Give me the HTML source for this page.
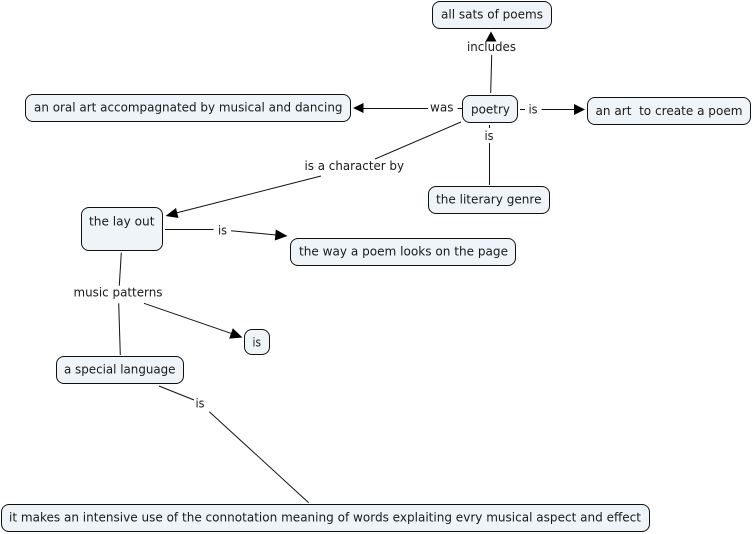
<!DOCTYPE html>
<html><head><meta charset="utf-8">
<style>
html,body{margin:0;padding:0;background:#fff;width:753px;height:534px;overflow:hidden}
svg{display:block}
text{font-family:"DejaVu Sans","Liberation Sans",sans-serif;font-size:12px;fill:#1a1a1a;white-space:pre}
rect{fill:#eef4f7;stroke:#111;stroke-width:1}
line{stroke:#111;stroke-width:1}
polygon{fill:#000}
</style></head><body>
<svg width="753" height="534" viewBox="0 0 753 534" xmlns="http://www.w3.org/2000/svg">
<!-- connectors -->
<line x1="490.7" y1="93" x2="491.7" y2="55"/>
<polygon points="491,31.5 496.5,41.5 485.5,41.5"/>
<line x1="362" y1="108.5" x2="428" y2="108.5"/>
<polygon points="353,108 363.5,103 363.5,113"/>
<line x1="457.5" y1="108.5" x2="462" y2="108.5"/>
<line x1="520" y1="109.5" x2="525" y2="109.5"/>
<line x1="541.5" y1="109.5" x2="576" y2="109.5"/>
<polygon points="585,109.5 574,104 574,115"/>
<line x1="489.5" y1="125" x2="489.5" y2="128"/>
<line x1="489.5" y1="143" x2="489.5" y2="185"/>
<line x1="461" y1="122" x2="375" y2="159"/>
<line x1="321" y1="176" x2="176" y2="213"/>
<polygon points="165.5,216 176,208 178.5,218"/>
<line x1="165" y1="229.5" x2="213.5" y2="229.5"/>
<line x1="231" y1="230.7" x2="276" y2="235"/>
<polygon points="287.5,236 275.8,229.5 274.8,240.5"/>
<line x1="121.3" y1="252.7" x2="119.3" y2="285.7"/>
<line x1="118.7" y1="303.3" x2="120.3" y2="355"/>
<line x1="144" y1="303.3" x2="232" y2="333.7"/>
<polygon points="242.5,337.5 232.8,328.2 229.2,338.6"/>
<line x1="159" y1="386" x2="194" y2="400"/>
<line x1="209.3" y1="411.7" x2="308.7" y2="502.7"/>
<!-- nodes -->
<rect x="432.5" y="1.5" width="119" height="27" rx="7.5"/>
<rect x="462.5" y="95.5" width="55" height="27" rx="7.5"/>
<rect x="587.5" y="97.5" width="163" height="27" rx="7.5"/>
<rect x="428.5" y="186.5" width="121" height="27" rx="7.5"/>
<rect x="25.5" y="94.5" width="325" height="27" rx="7.5"/>
<rect x="81.5" y="207.5" width="81" height="43" rx="7.5"/>
<rect x="290.5" y="238.5" width="225" height="27" rx="7.5"/>
<rect x="244.5" y="329.5" width="25" height="25" rx="7.5"/>
<rect x="56.5" y="356.5" width="127" height="27" rx="7.5"/>
<rect x="1.5" y="504.5" width="648" height="27" rx="7.5"/>
<!-- node text -->
<text x="441" y="18.3" textLength="102" lengthAdjust="spacingAndGlyphs">all sats of poems</text>
<text x="471" y="113.3" textLength="39" lengthAdjust="spacingAndGlyphs">poetry</text>
<text x="595.5" y="115" textLength="147" lengthAdjust="spacingAndGlyphs">an art  to create a poem</text>
<text x="436" y="203.3" textLength="105.5" lengthAdjust="spacingAndGlyphs">the literary genre</text>
<text x="34" y="111.3" textLength="308.5" lengthAdjust="spacingAndGlyphs">an oral art accompagnated by musical and dancing</text>
<text x="89" y="225.3" textLength="65.5" lengthAdjust="spacingAndGlyphs">the lay out</text>
<text x="299" y="255.3" textLength="209" lengthAdjust="spacingAndGlyphs">the way a poem looks on the page</text>
<text x="252.5" y="346.7" textLength="8.5" lengthAdjust="spacingAndGlyphs">is</text>
<text x="64" y="373.3" textLength="111.5" lengthAdjust="spacingAndGlyphs">a special language</text>
<text x="9" y="521.3" textLength="632" lengthAdjust="spacingAndGlyphs">it makes an intensive use of the connotation meaning of words explaiting evry musical aspect and effect</text>
<!-- link labels -->
<text x="467" y="51" textLength="49" lengthAdjust="spacingAndGlyphs">includes</text>
<text x="430" y="111.7" textLength="23.5" lengthAdjust="spacingAndGlyphs">was</text>
<text x="528.5" y="113.7" textLength="9" lengthAdjust="spacingAndGlyphs">is</text>
<text x="484.5" y="140" textLength="9" lengthAdjust="spacingAndGlyphs">is</text>
<text x="304.5" y="170" textLength="99.5" lengthAdjust="spacingAndGlyphs">is a character by</text>
<text x="218" y="234.3" textLength="9" lengthAdjust="spacingAndGlyphs">is</text>
<text x="73.5" y="296.7" textLength="89" lengthAdjust="spacingAndGlyphs">music patterns</text>
<text x="195.5" y="407.7" textLength="9" lengthAdjust="spacingAndGlyphs">is</text>
</svg>
</body></html>
